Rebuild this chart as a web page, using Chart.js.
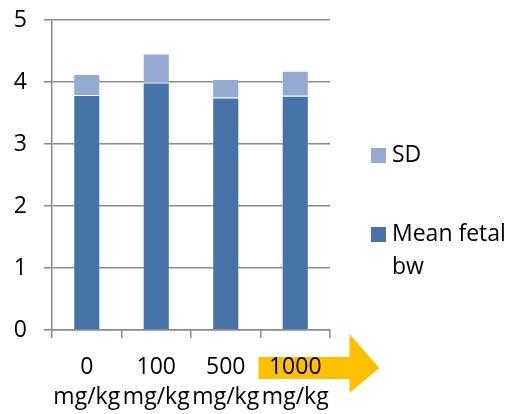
<!DOCTYPE html>
<html>
<head>
<meta charset="utf-8">
<script src="https://cdn.jsdelivr.net/npm/chart.js@4/dist/chart.umd.min.js"></script>
<style>
  html, body { margin: 0; padding: 0; background: #fff; }
  #wrap { width: 510px; height: 414px; }
</style>
</head>
<body>
<div id="wrap"><canvas id="fetalChart" width="510" height="414"></canvas></div>
<script>
// dữ liệu
const categories = [['0', 'mg/kg'], ['100', 'mg/kg'], ['500', 'mg/kg'], ['1000', 'mg/kg']];
const meanBw = [3.79, 3.99, 3.75, 3.78];
const sdValues = [0.34, 0.47, 0.30, 0.40];
const yTicks = [0, 1, 2, 3, 4, 5];

const FONT = '"Open Sans", Lato, sans-serif';
const colorMean = '#4674A9';
const colorSd = '#95AAD3';
const gridColor = '#8a8a8a';

// mũi tên vàng phía sau nhãn "1000"
const arrowPlugin = {
    id: 'arrow',
    beforeDraw(chart) {
        const x = chart.scales.x;
        const cx = x.getPixelForValue(categories.length - 1);
        const w = x.getPixelForValue(1) - x.getPixelForValue(0);
        const base = chart.chartArea.bottom;
        const c = chart.ctx;
        c.save();
        c.fillStyle = '#FFC000';
        c.beginPath();
        c.moveTo(cx - w * 0.53, base + 27);
        c.lineTo(cx + w * 0.78, base + 27);
        c.lineTo(cx + w * 0.78, base + 4);
        c.lineTo(cx + w * 1.21, base + 38);
        c.lineTo(cx + w * 0.78, base + 63);
        c.lineTo(cx + w * 0.78, base + 49);
        c.lineTo(cx - w * 0.53, base + 49);
        c.closePath();
        c.fill();
        c.restore();
    }
};

// chú giải bên phải (có xuống dòng)
const legendPlugin = {
    id: 'sideLegend',
    afterDraw(chart) {
        const c = chart.ctx;
        const left = chart.chartArea.right + 41;
        const items = [
            { color: colorSd, lines: ['SD'], y: 155 },
            { color: colorMean, lines: ['Mean fetal', 'bw'], y: 234 },
        ];
        c.save();
        c.font = '23px ' + FONT;
        c.textBaseline = 'middle';
        c.textAlign = 'left';
        items.forEach(it => {
            c.fillStyle = it.color;
            c.fillRect(left, it.y - 7, 15, 15);
            c.fillStyle = '#000';
            it.lines.forEach((t, i) => c.fillText(t, left + 21, it.y + i * 33));
        });
        c.restore();
    }
};

const ctx = document.getElementById('fetalChart').getContext('2d');
new Chart(ctx, {
    type: 'bar',
    data: {
        labels: categories,
        datasets: [
            {
                label: 'Mean fetal bw',
                data: meanBw,
                backgroundColor: colorMean,
                borderColor: 'rgba(255,255,255,0.2)',
                borderWidth: 1,
            },
            {
                label: 'SD',
                data: sdValues,
                backgroundColor: colorSd,
                borderColor: 'rgba(255,255,255,0.2)',
                borderWidth: 1,
            },
        ],
    },
    options: {
        responsive: false,
        animation: false,
        layout: { padding: { top: 20, right: 180, left: 0, bottom: 0 } },
        categoryPercentage: 1,
        barPercentage: 0.39,
        plugins: {
            legend: { display: false },
            tooltip: { enabled: false },
        },
        scales: {
            x: {
                stacked: true,
                grid: {
                    drawOnChartArea: false,
                    drawTicks: true,
                    tickLength: 8,
                    color: gridColor,
                    lineWidth: 1.5,
                },
                border: { color: gridColor, width: 1.5 },
                ticks: {
                    color: '#000',
                    padding: 14,
                    maxRotation: 0,
                    autoSkip: false,
                    font: { family: FONT, size: 23, lineHeight: 1.32 },
                },
                afterFit(scale) { scale.height = 84; },
            },
            y: {
                stacked: true,
                min: 0,
                max: 5,
                afterBuildTicks(scale) { scale.ticks = yTicks.map(v => ({ value: v })); },
                grid: {
                    color: gridColor,
                    lineWidth: 1.5,
                    tickLength: 8,
                },
                border: { color: gridColor, width: 1.5 },
                ticks: {
                    color: '#000',
                    padding: 17,
                    font: { family: FONT, size: 23, lineHeight: 1.0 },
                },
                afterFit(scale) {
                    scale.width = 52;
                    scale.paddingTop = 0;
                    scale.paddingBottom = 0;
                },
            },
        },
    },
    plugins: [arrowPlugin, legendPlugin],
});
</script>
</body>
</html>
